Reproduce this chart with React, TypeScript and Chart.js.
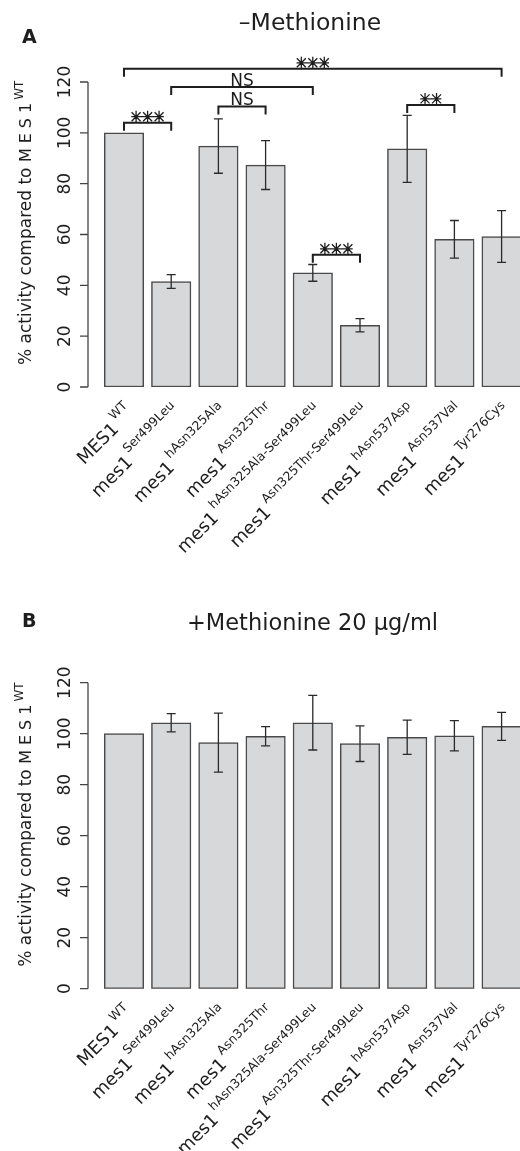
import React, { useEffect, useRef } from "react";
import { Chart, registerables } from "chart.js";

Chart.register(...registerables);

// ---------- data ----------
const labelMain = ["MES1", "mes1", "mes1", "mes1", "mes1", "mes1", "mes1", "mes1", "mes1"];
const labelSup = [
  "WT",
  "Ser499Leu",
  "hAsn325Ala",
  "Asn325Thr",
  "hAsn325Ala-Ser499Leu",
  "Asn325Thr-Ser499Leu",
  "hAsn537Asp",
  "Asn537Val",
  "Tyr276Cys",
];
const minusMetValues = [100, 41.5, 94.8, 87.3, 44.9, 24.3, 93.7, 58.1, 59.2];
const minusMetErrors = [0, 2.7, 10.7, 9.6, 3.3, 2.6, 13.2, 7.4, 10.2];
const plusMetValues = [100, 104.3, 96.5, 99.0, 104.3, 96.1, 98.6, 99.2, 102.9];
const plusMetErrors = [0, 3.6, 11.6, 3.8, 10.7, 7.0, 6.7, 5.9, 5.5];
const yTicks = [0, 20, 40, 60, 80, 100, 120];

// significance brackets for panel A: [fromBar, toBar, levelValue, label]
const signifFrom = [0, 2, 1, 0, 6, 4];
const signifTo = [1, 3, 4, 8, 7, 5];
const signifLevel = [104, 110.4, 118, 125.2, 111, 52];
const signifLabel = ["***", "NS", "NS", "***", "**", "***"];

const titleA = "\u2013Methionine";
const titleB = "+Methionine 20 \u00b5g/ml";

// ---------- drawing helpers ----------
const FONT = '"DejaVu Sans", "Noto Sans", sans-serif';
const INK = "#1e1e1e";

function drawStars(ctx: CanvasRenderingContext2D, cx: number, lineY: number, n: number) {
  const r = 6;
  const sp = 11.5;
  const cy = lineY - 6;
  const x0 = cx - ((n - 1) * sp) / 2;
  ctx.save();
  ctx.lineWidth = 1.3;
  ctx.strokeStyle = INK;
  ctx.beginPath();
  for (let k = 0; k < n; k++) {
    const sx = x0 + k * sp;
    ctx.moveTo(sx, cy - r);
    ctx.lineTo(sx, cy + r);
    const d = r * 0.75;
    ctx.moveTo(sx - d, cy - d);
    ctx.lineTo(sx + d, cy + d);
    ctx.moveTo(sx + d, cy - d);
    ctx.lineTo(sx - d, cy + d);
  }
  ctx.moveTo(x0 - r * 0.8, cy);
  ctx.lineTo(x0 + (n - 1) * sp + r * 0.8, cy);
  ctx.stroke();
  ctx.restore();
}

type PanelOpts = {
  values: number[];
  errors: number[];
  title: string;
  titleSize: number;
  titleX: number;
  titleY: number;
  letter: string;
  letterY: number;
  brackets: boolean;
};

function makeDecorPlugin(p: PanelOpts) {
  return {
    id: "decor" + p.letter,
    afterDraw(chart: any) {
      const ctx: CanvasRenderingContext2D = chart.ctx;
      const xs = chart.scales.x;
      const ys = chart.scales.y;
      const axisX = chart.chartArea.left;
      const y0 = ys.getPixelForValue(0);
      ctx.save();
      ctx.fillStyle = INK;
      ctx.strokeStyle = "#444";

      // y axis
      ctx.lineWidth = 1.3;
      ctx.beginPath();
      ctx.moveTo(axisX, ys.getPixelForValue(yTicks[0]));
      ctx.lineTo(axisX, ys.getPixelForValue(yTicks[yTicks.length - 1]));
      yTicks.forEach((t) => {
        const py = ys.getPixelForValue(t);
        ctx.moveTo(axisX, py);
        ctx.lineTo(axisX - 8, py);
      });
      ctx.stroke();
      ctx.font = "17px " + FONT;
      ctx.textAlign = "center";
      ctx.textBaseline = "alphabetic";
      yTicks.forEach((t) => {
        const py = ys.getPixelForValue(t);
        ctx.save();
        ctx.translate(70, py);
        ctx.rotate(-Math.PI / 2);
        ctx.fillText(String(t), 0, 0);
        ctx.restore();
      });

      // y title
      ctx.save();
      ctx.translate(31, y0 - 22);
      ctx.rotate(-Math.PI / 2);
      ctx.textAlign = "left";
      ctx.font = "17px " + FONT;
      const t1 = "% activity compared to ";
      ctx.fillText(t1, 0, 0);
      let tx = ctx.measureText(t1).width;
      ctx.font = "16px " + FONT;
      (ctx as any).letterSpacing = "5px";
      ctx.fillText("MES1", tx, 0);
      tx += ctx.measureText("MES1").width;
      (ctx as any).letterSpacing = "0px";
      ctx.font = "12px " + FONT;
      ctx.fillText("WT", tx - 2, -8);
      ctx.restore();

      // x labels
      labelMain.forEach((m, i) => {
        const px = xs.getPixelForValue(i);
        ctx.save();
        ctx.translate(px + 4, y0 + 19);
        ctx.rotate(-Math.PI / 4);
        ctx.textAlign = "right";
        ctx.font = "12.5px " + FONT;
        ctx.fillText(labelSup[i], 0, 0);
        const w = ctx.measureText(labelSup[i]).width;
        ctx.font = "18px " + FONT;
        ctx.fillText(m, -w - 3, 11);
        ctx.restore();
      });

      // error bars
      ctx.strokeStyle = "#2a2a2a";
      ctx.lineWidth = 1.3;
      p.values.forEach((v, i) => {
        const e = p.errors[i];
        if (!e) return;
        const px = xs.getPixelForValue(i);
        const top = ys.getPixelForValue(v + e);
        const bot = ys.getPixelForValue(v - e);
        ctx.beginPath();
        ctx.moveTo(px, top);
        ctx.lineTo(px, bot);
        ctx.moveTo(px - 4.5, top);
        ctx.lineTo(px + 4.5, top);
        ctx.moveTo(px - 4.5, bot);
        ctx.lineTo(px + 4.5, bot);
        ctx.stroke();
      });

      // significance brackets
      if (p.brackets) {
        signifFrom.forEach((f, k) => {
          const xa = xs.getPixelForValue(f);
          const xb = xs.getPixelForValue(signifTo[k]);
          const ly = ys.getPixelForValue(signifLevel[k]);
          ctx.strokeStyle = INK;
          ctx.lineWidth = 2;
          ctx.beginPath();
          ctx.moveTo(xa, ly + 8);
          ctx.lineTo(xa, ly);
          ctx.lineTo(xb, ly);
          ctx.lineTo(xb, ly + 8);
          ctx.stroke();
          const cx = (xa + xb) / 2;
          const lab = signifLabel[k];
          if (lab === "NS") {
            ctx.font = "17px " + FONT;
            ctx.textAlign = "center";
            ctx.fillText(lab, cx, ly - 1);
          } else {
            drawStars(ctx, cx, ly, lab.length);
          }
        });
      }

      // title & letter
      ctx.textAlign = "center";
      ctx.font = p.titleSize + "px " + FONT;
      ctx.fillText(p.title, p.titleX, p.titleY);
      ctx.textAlign = "left";
      ctx.font = "bold 19px " + FONT;
      ctx.fillText(p.letter, 22, p.letterY);
      ctx.restore();
    },
  };
}

function Panel(props: {
  opts: PanelOpts;
  height: number;
  top: number;
  padTop: number;
  padBottom: number;
}) {
  const ref = useRef<HTMLCanvasElement | null>(null);
  useEffect(() => {
    if (!ref.current) return;
    const p = props.opts;
    const chart = new Chart(ref.current, {
      type: "bar",
      data: {
        datasets: [
          {
            data: p.values.map((v, i) => ({ x: i, y: v })),
            backgroundColor: "#d7d8da",
            borderColor: "#4a4a4a",
            borderWidth: 1.5,
            borderSkipped: false,
            barThickness: 39.5,
          } as any,
        ],
      },
      options: {
        animation: false,
        responsive: false,
        devicePixelRatio: 1,
        events: [],
        layout: {
          padding: { left: 88, right: 0, top: props.padTop, bottom: props.padBottom },
        },
        plugins: {
          legend: { display: false },
          tooltip: { enabled: false },
          title: { display: false },
        },
        scales: {
          x: {
            type: "linear",
            display: false,
            offset: false,
            min: -0.7627,
            max: 8.39,
          },
          y: {
            type: "linear",
            display: false,
            min: 0,
            max: 120,
          },
        },
      } as any,
      plugins: [makeDecorPlugin(p)],
    });
    return () => chart.destroy();
  }, []);
  return (
    <canvas
      ref={ref}
      width={520}
      height={props.height}
      style={{ position: "absolute", left: 0, top: props.top, width: 520, height: props.height }}
    />
  );
}

export default function App() {
  const optsA: PanelOpts = {
    values: minusMetValues,
    errors: minusMetErrors,
    title: titleA,
    titleSize: 23.5,
    titleX: 310,
    titleY: 30,
    letter: "A",
    letterY: 43,
    brackets: true,
  };
  const optsB: PanelOpts = {
    values: plusMetValues,
    errors: plusMetErrors,
    title: titleB,
    titleSize: 22.5,
    titleX: 312.5,
    titleY: 39.5,
    letter: "B",
    letterY: 37,
    brackets: false,
  };
  return (
    <div
      style={{
        position: "absolute",
        left: 0,
        top: 0,
        width: 520,
        height: 1151,
        background: "#ffffff",
        overflow: "hidden",
      }}
    >
      <Panel opts={optsA} height={590} top={0} padTop={82} padBottom={203} />
      <Panel opts={optsB} height={561} top={590} padTop={92.7} padBottom={162.3} />
    </div>
  );
}
